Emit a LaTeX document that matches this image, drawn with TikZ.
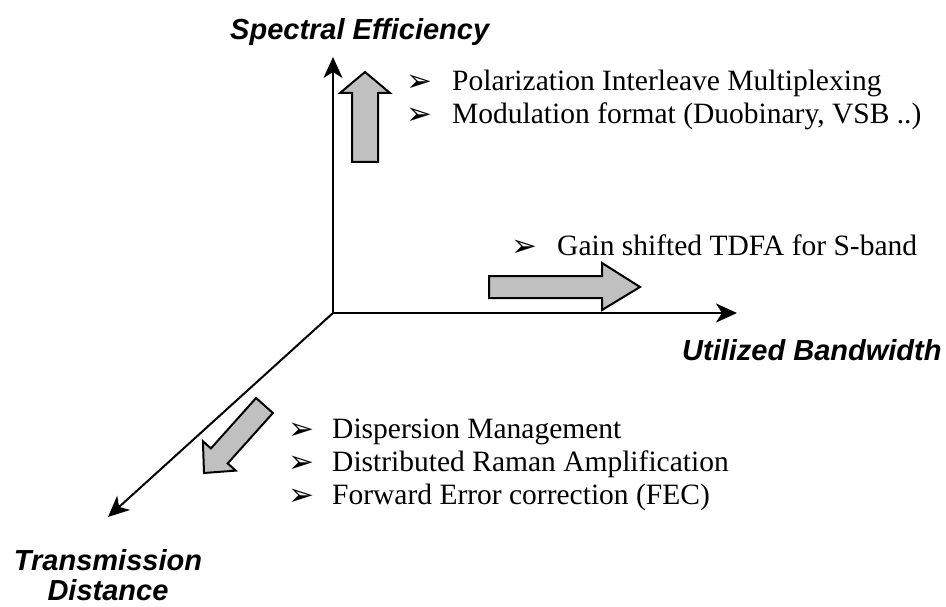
\documentclass[tikz,border=0pt]{standalone}
\usepackage{fontspec}
\setmainfont{Liberation Serif}
\setsansfont{Liberation Sans}
\newfontfamily\bulfont{DejaVu Sans}
\usetikzlibrary{arrows.meta}
\definecolor{blkgray}{HTML}{C0C0C0}
\begin{document}
\begin{tikzpicture}[x=1pt,y=-1pt,
  axis/.style={line width=2pt, -{Stealth[length=21pt,width=19pt,inset=6pt]}},
  blk/.style={draw=black, line width=2pt, fill=blkgray, line join=miter},
  lbl/.style={font=\sffamily\bfseries\itshape\fontsize{29}{30}\selectfont, inner sep=0pt},
  item/.style={font=\fontsize{29.5}{33}\selectfont, inner sep=0pt, anchor=base west},
  bul/.style={font=\bulfont\fontsize{31}{31}\selectfont, inner sep=0pt, anchor=base west}]
\useasboundingbox (0,0) rectangle (946,607);
% axes
\coordinate (O) at (333,313);
\coordinate (ytip) at (333,57);
\coordinate (xtip) at (737,313);
\coordinate (ztip) at (108,517);
\draw[axis] (O) -- (ytip);
\draw[axis] (O) -- (xtip);
\draw[axis] (O) -- (ztip);
% axis labels
\node[lbl, anchor=base west] (ylab) at (230,40) {Spectral Efficiency};
\node[lbl, anchor=base west] (xlab) at (682,360) {Utilized Bandwidth};
\node[lbl, anchor=base, align=center] (zlab) at (108,600) {Transmission\\Distance};
% block arrows
\draw[blk] (352,162) -- (352,93) -- (340,93) -- (365,72) -- (390,93) -- (378,93) -- (378,162) -- cycle;
\draw[blk] (489,276) -- (602,276) -- (602,263) -- (640,287) -- (602,310) -- (602,298) -- (489,298) -- cycle;
\draw[blk] (256.1,398.0) -- (210.9,448.4) -- (202.9,441.2) -- (204,473) -- (235.7,470.6) -- (227.7,463.4) -- (272.9,413.0) -- cycle;
% items: spectral efficiency
\node[bul] (b1) at (406,92) {➢};
\node[item] (t1) at (452,91) {Polarization Interleave Multiplexing};
\node[bul] (b2) at (406,125) {➢};
\node[item] (t2) at (452,124) {Modulation format (Duobinary, VSB ..)};
% bandwidth
\node[bul] (b3) at (511,256) {➢};
\node[item] (t3) at (557,255) {Gain shifted TDFA for S-band};
% distance
\node[bul] (b4) at (288,439) {➢};
\node[item] (t4) at (332,438) {Dispersion Management};
\node[bul] (b5) at (288,472) {➢};
\node[item] (t5) at (332,471) {Distributed Raman Amplification};
\node[bul] (b6) at (288,505) {➢};
\node[item] (t6) at (332,504) {Forward Error correction (FEC)};
\end{tikzpicture}
\end{document}
